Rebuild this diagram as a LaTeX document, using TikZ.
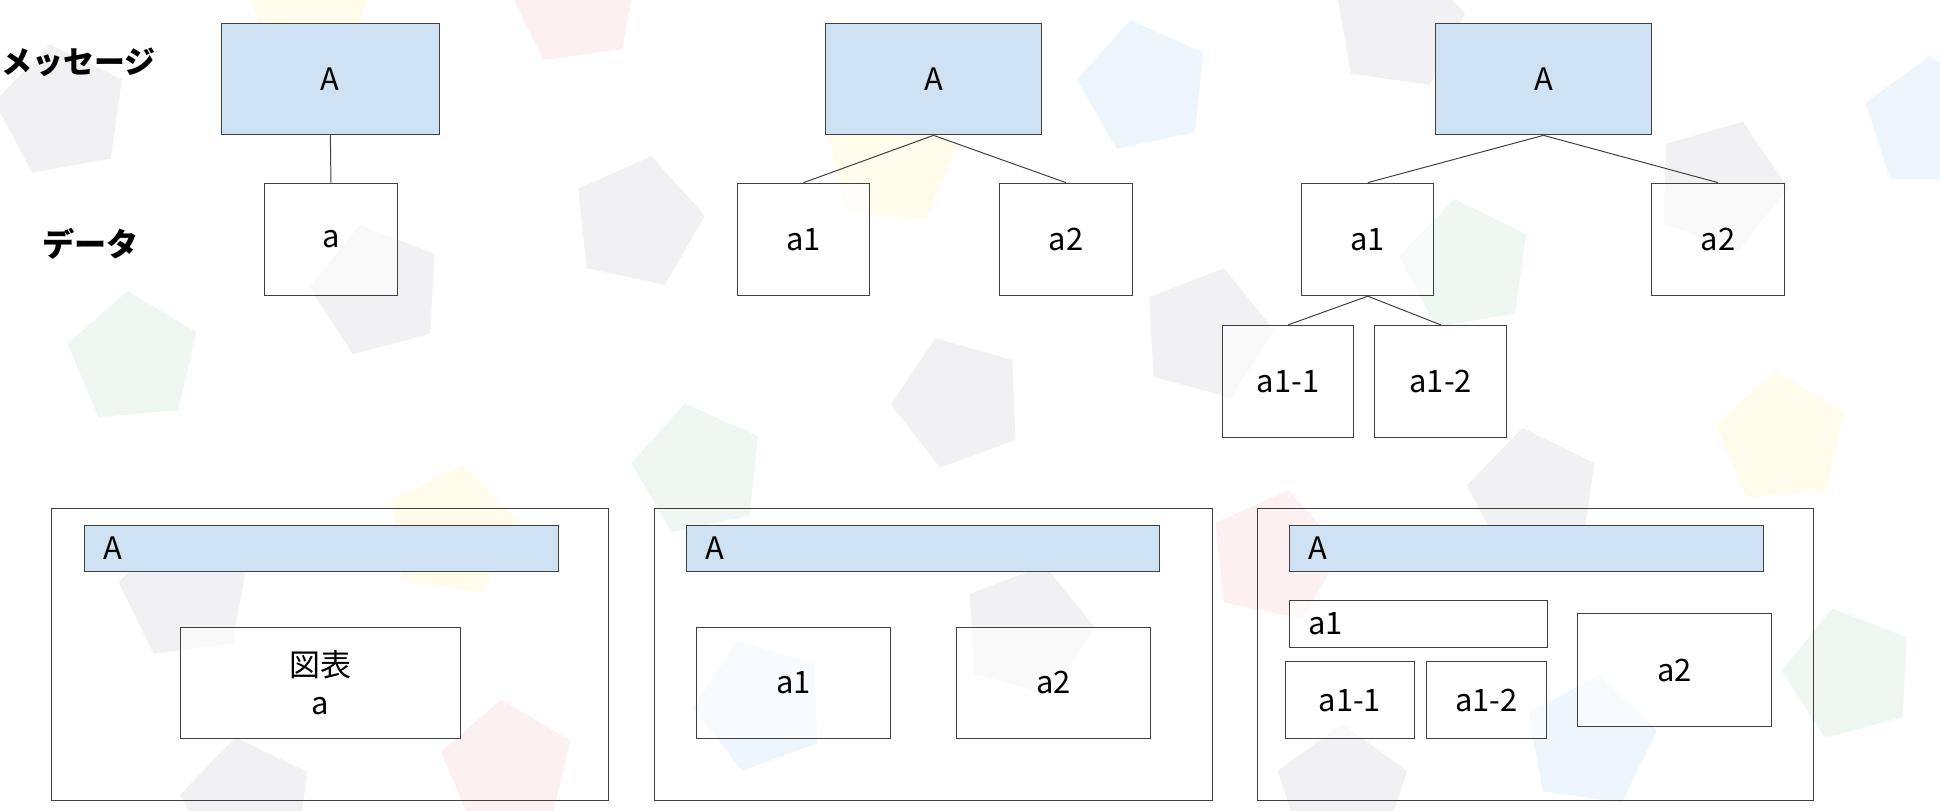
\documentclass[tikz,border=0pt]{standalone}
\usepackage{fontspec}
\setmainfont{Noto Sans CJK JP}
\usetikzlibrary{shapes.geometric}
\definecolor{hd}{HTML}{CFE2F3}
\definecolor{pg}{HTML}{F1F1F3}
\definecolor{pb}{HTML}{EEF6FD}
\definecolor{py}{HTML}{FFFCEB}
\definecolor{pn}{HTML}{EEF7F1}
\definecolor{pr}{HTML}{FDF0F0}
\begin{document}
\begin{tikzpicture}[x=1pt,y=-1pt,
  bx/.style={draw=black!75,line width=0.8pt,fill=white,fill opacity=0.6,text opacity=1,font=\fontsize{25}{28}\selectfont},
  hb/.style={draw=black!75,line width=0.8pt,fill=hd},
  fr/.style={draw=black!75,line width=0.8pt},
  ln/.style={draw=black!75,line width=0.8pt},
  pt/.style={regular polygon,regular polygon sides=5,minimum size=110pt,inner sep=0pt,draw=none}]
\useasboundingbox (0,0) rectangle (1568,655);
% background pentagons
\foreach \x/\y/\c/\r in {50/90/pg/10,515/180/pg/-12,305/235/pg/15,108/290/pn/5,465/0/pr/8,250/0/py/0,
  720/130/py/-5,925/70/pb/12,1130/20/pg/-8,775/325/pg/20,975/270/pg/-15,1185/215/pn/10,1390/150/pg/-20,
  1440/355/py/5,1560/100/pb/0,565/380/pn/12,365/430/py/-10,150/480/pg/8,830/510/pg/-15,615/570/pb/20,
  410/620/pr/5,1030/450/pr/-12,1240/400/pg/10,1285/600/pb/-8,1495/545/pn/15,1085/640/pg/0,200/650/pg/10}
  \node[pt,fill=\c,rotate=\r] at (\x,\y) {};
% top labels
\node[font=\fontsize{25}{30}\selectfont\bfseries,anchor=west,inner sep=0pt] (lm) at (1,50) {メッセージ};
\node[font=\fontsize{26}{30}\selectfont\bfseries,anchor=west,inner sep=0pt] (ld) at (34,197) {データ};
% top left
\node[hb,minimum width=176pt,minimum height=90pt,font=\fontsize{25}{28}\selectfont] (A1) at (267,64) {A};
\node[bx,minimum width=107pt,minimum height=91pt] (a) at (267.5,193.5) {a};
\draw[ln] (A1.south) -- (a.north);
% top middle
\node[hb,minimum width=175pt,minimum height=90pt,font=\fontsize{25}{28}\selectfont] (A2) at (754.5,64) {A};
\node[bx,minimum width=107pt,minimum height=91pt] (b1) at (649.5,193.5) {a1};
\node[bx,minimum width=107pt,minimum height=91pt] (b2) at (861.5,193.5) {a2};
\draw[ln] (A2.south) -- (b1.north);
\draw[ln] (A2.south) -- (b2.north);
% top right
\node[hb,minimum width=175pt,minimum height=90pt,font=\fontsize{25}{28}\selectfont] (A3) at (1247.5,64) {A};
\node[bx,minimum width=107pt,minimum height=91pt] (c1) at (1105.5,193.5) {a1};
\node[bx,minimum width=107pt,minimum height=91pt] (c2) at (1388.5,193.5) {a2};
\node[bx,minimum width=106pt,minimum height=91pt] (c11) at (1041,308.5) {a1-1};
\node[bx,minimum width=107pt,minimum height=91pt] (c12) at (1164.5,308.5) {a1-2};
\draw[ln] (A3.south) -- (c1.north);
\draw[ln] (A3.south) -- (c2.north);
\draw[ln] (c1.south) -- (c11.north);
\draw[ln] (c1.south) -- (c12.north);
% bottom frames
\draw[fr] (42,411) rectangle (492,647);
\draw[fr] (529,411) rectangle (980,647);
\draw[fr] (1016,411) rectangle (1466,647);
% panel 1
\draw[hb] (68,425) rectangle (451,462);
\node[anchor=west,font=\fontsize{25}{28}\selectfont] (pA1) at (80,443) {A};
\node[bx,minimum width=226pt,minimum height=90pt,align=center,font=\fontsize{25}{31}\selectfont] (p1) at (259,552) {図表\\a};
% panel 2
\draw[hb] (555,425) rectangle (937,462);
\node[anchor=west,font=\fontsize{25}{28}\selectfont] (pA2) at (567,443) {A};
\node[bx,minimum width=157pt,minimum height=90pt] (q1) at (641.5,552) {a1};
\node[bx,minimum width=157pt,minimum height=90pt] (q2) at (851.5,552) {a2};
% panel 3
\draw[hb] (1042,425) rectangle (1425,462);
\node[anchor=west,font=\fontsize{25}{28}\selectfont] (pA3) at (1054,443) {A};
\node[bx,minimum width=208pt,minimum height=38pt,anchor=west] (r1) at (1042,504) {};
\node[anchor=west,font=\fontsize{25}{28}\selectfont] (r1t) at (1054,504) {a1};
\node[bx,minimum width=104pt,minimum height=62pt] (r11) at (1091,566) {a1-1};
\node[bx,minimum width=97pt,minimum height=62pt] (r12) at (1201.5,566) {a1-2};
\node[bx,minimum width=157pt,minimum height=91pt] (r2) at (1353.5,541.5) {a2};
\end{tikzpicture}
\end{document}
